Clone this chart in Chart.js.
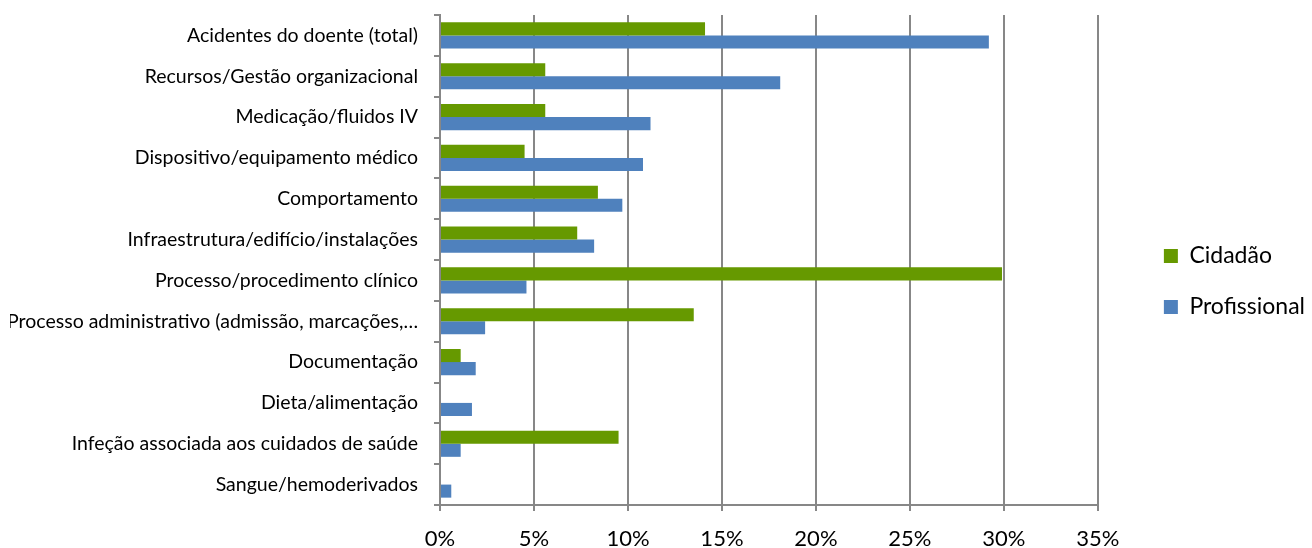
<!doctype html>
<html>
<head>
	<meta charset="utf-8">
	<title>Incidentes por tipo</title>
	<script src="https://cdn.jsdelivr.net/npm/chart.js@4/dist/chart.umd.min.js"></script>
	<style>
		body {
			margin: 0;
			background: #fff;
		}

		#holder {
			width: 1312px;
			height: 548px;
		}
	</style>
</head>
<body>
	<div id="holder">
		<canvas id="chart-area"></canvas>
	</div>
	<script>
		var categorias = [
			'Acidentes do doente (total)',
			'Recursos/Gestão organizacional',
			'Medicação/fluidos IV',
			'Dispositivo/equipamento médico',
			'Comportamento',
			'Infraestrutura/edifício/instalações',
			'Processo/procedimento clínico',
			'Processo administrativo (admissão, marcações,…',
			'Documentação',
			'Dieta/alimentação',
			'Infeção associada aos cuidados de saúde',
			'Sangue/hemoderivados'
		];
		var cidadao = [14.1, 5.6, 5.6, 4.5, 8.4, 7.3, 29.9, 13.5, 1.1, 0, 9.5, 0];
		var profissional = [29.2, 18.1, 11.2, 10.8, 9.7, 8.2, 4.6, 2.4, 1.9, 1.7, 1.1, 0.6];
		var ticksX = [0, 5, 10, 15, 20, 25, 30, 35];

		var fonte = "Lato, 'Open Sans', sans-serif";

		// empurra a legenda para a direita, como no original
		var legendaDireita = {
			id: 'legendaDireita',
			afterLayout: function (chart) {
				chart.legend.left += 38;
				chart.legend.right += 38;
			}
		};

		var config = {
			type: 'bar',
			data: {
				labels: categorias,
				datasets: [{
					label: 'Cidadão',
					data: cidadao,
					backgroundColor: '#669900'
				}, {
					label: 'Profissional',
					data: profissional,
					backgroundColor: '#4f81bd'
				}]
			},
			options: {
				indexAxis: 'y',
				responsive: true,
				maintainAspectRatio: false,
				animation: false,
				categoryPercentage: 0.64,
				barPercentage: 1.0,
				layout: {
					padding: { top: 15, left: 10, right: 35, bottom: 0 }
				},
				plugins: {
					tooltip: { enabled: false },
					legend: {
						position: 'right',
						labels: {
							color: '#000',
							boxWidth: 14,
							boxHeight: 14,
							padding: 28,
							font: { family: fonte, size: 23 }
						}
					}
				},
				scales: {
					x: {
						min: 0,
						max: 35,
						afterBuildTicks: function (axis) {
							axis.ticks = ticksX.map(function (v) { return { value: v }; });
						},
						afterFit: function (axis) {
							axis.height = 43;
						},
						ticks: {
							color: '#000',
							padding: 15,
							font: { family: fonte, size: 22 },
							callback: function (v) { return v + '%'; }
						},
						grid: {
							color: '#878787',
							lineWidth: 2,
							tickLength: 6
						},
						border: { color: '#878787', width: 2 }
					},
					y: {
						afterFit: function (axis) {
							axis.width = 430;
							axis.paddingTop = 0;
							axis.paddingBottom = 0;
						},
						ticks: {
							color: '#000',
							padding: 16,
							font: { family: fonte, size: 19.5 }
						},
						grid: {
							drawOnChartArea: false,
							color: '#878787',
							lineWidth: 2,
							tickLength: 6
						},
						border: { color: '#878787', width: 2 }
					}
				}
			},
			plugins: [legendaDireita]
		};

		var ctx = document.getElementById('chart-area').getContext('2d');
		window.myBar = new Chart(ctx, config);
	</script>
</body>
</html>
